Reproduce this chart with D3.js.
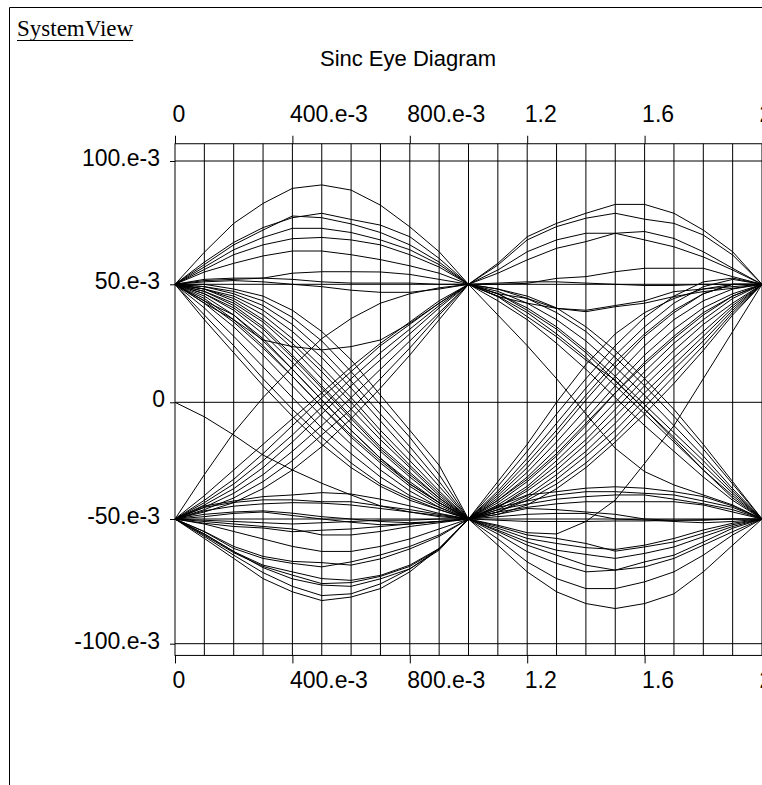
<!DOCTYPE html>
<html>
<head>
<meta charset="utf-8">
<script src="https://cdn.jsdelivr.net/npm/d3@7"></script>
<style>
body { margin: 0; background: #fff; }
svg { display: block; }
</style>
</head>
<body>
<script>
// sample times of the two symbol periods (s)
var timesA = [0, 0.1, 0.2, 0.3, 0.4, 0.5, 0.6, 0.7, 0.8, 0.9, 1.0];
var timesB = [1.0, 1.1, 1.2, 1.3, 1.4, 1.5, 1.6, 1.7, 1.8, 1.9, 2.0];

// trace values, in 1e-3 units
var startTrace = [0, -6.2, -14, -22.6, -29, -34.7, -39.7, -44.4, -47, -49, -50];

var aTopTop = [
    [50, 63, 74.7, 82.8, 88.9, 90.3, 88.2, 82.1, 73.3, 63.2, 50],
    [50, 59, 67, 73, 77, 78.8, 76.3, 74, 69.3, 60.5, 50],
    [50, 58, 66, 72, 77.7, 77, 74.5, 71, 66, 59, 50],
    [50, 57, 64, 69, 72.7, 72.7, 71, 68, 64, 58, 50],
    [50, 56, 62, 66, 68.5, 69, 68, 66, 62, 57, 50],
    [50, 55, 58.5, 61.5, 63.5, 63.5, 62, 60, 57.5, 54.5, 50],
    [50, 51.5, 52, 52.5, 54.5, 55.1, 55.1, 55, 54, 52, 50],
    [50, 52, 52.5, 52.5, 52, 51, 50.5, 50.5, 50.5, 50, 50],
    [50, 51, 51.5, 51, 50, 49, 47.5, 46.6, 46.6, 48, 50],
    [50, 42, 35, 26.4, 23.6, 22.2, 23.6, 26.4, 33.5, 42, 50]
];

var aTopBot = [
    [50, 35, 21, 7, -6, -18, -28, -36, -42, -46, -50],
    [50, 37, 24, 10, -3, -15, -26, -35, -41, -46, -50],
    [50, 40, 28, 15, 2, -11, -22, -32, -40, -45, -50],
    [50, 42, 32, 20, 7, -6, -18, -29, -38, -45, -50],
    [50, 43, 37, 27, 14, 1, -12, -24, -35, -43, -50],
    [50, 44, 35, 24, 11, -2, -15, -26, -36, -44, -50],
    [50, 45, 37, 26, 14, 1, -12, -24, -34, -43, -50],
    [50, 46, 39, 29, 17, 4, -9, -21, -32, -42, -50],
    [50, 47, 41, 32, 20, 7, -6, -19, -30, -41, -50],
    [50, 47, 42, 34, 23, 10, -3, -16, -28, -40, -50],
    [50, 48, 44, 37, 27, 15, 2, -12, -25, -38, -50],
    [50, 48, 45, 39, 30, 19, 6, -8, -22, -36, -50],
    [50, 49, 46, 41, 33, 22, 9, -5, -19, -34, -50],
    [50, 49, 47, 43, 36, 26, 13, -1, -15, -31, -50],
    [50, 50, 48, 45, 39, 30, 18, 3, -12, -27, -50],
    [50, 46, 40, 31, 19, 6, -7, -20, -31, -41, -50],
    [50, 43, 34, 23, 11, -2, -14, -25, -35, -43, -50],
    [50, 48, 43, 35, 25, 13, 0, -14, -27, -39, -50]
];

var aBotTop = [
    [-50, -31, -13, 2, 15, 27, 35.5, 42, 46, 48.5, 50],
    [-50, -42, -33, -22, -10, 2, 13, 24, 33, 42, 50],
    [-50, -44, -37, -28, -17, -5, 7, 18, 29, 40, 50],
    [-50, -45, -39, -31, -21, -10, 2, 14, 26, 38, 50],
    [-50, -46, -41, -34, -25, -14, -3, 10, 23, 37, 50],
    [-50, -47, -43, -37, -29, -19, -7, 6, 20, 35, 50],
    [-50, -43, -35, -25, -14, -2, 10, 21, 31, 41, 50],
    [-50, -40, -29, -18, -7, 4, 15, 25, 34, 43, 50]
];

var aBotBot = [
    [-50, -44.4, -42.3, -40.4, -39.7, -38.7, -39.3, -41.5, -44.4, -47.6, -50],
    [-50, -45, -42.9, -41.8, -41.8, -42.6, -42.6, -44.4, -46, -48, -50],
    [-50, -46.5, -44.5, -43.5, -43, -43.2, -44, -45.5, -47, -48.5, -50],
    [-50, -48, -47, -46.5, -47.5, -49, -50, -51, -51.5, -51, -50],
    [-50, -49, -47.6, -47, -48.5, -50, -51.3, -52.3, -52, -51, -50],
    [-50, -51.7, -53, -53.6, -55.1, -54.5, -54, -53, -52, -51, -50],
    [-50, -51, -52, -53, -54, -56.4, -56.4, -55, -53, -51.5, -50],
    [-50, -50.5, -51, -51.5, -52, -51.5, -51, -50.5, -50.5, -50, -50],
    [-50, -55.1, -61.8, -65.8, -67.8, -69.2, -67.2, -64.4, -61, -56.4, -50],
    [-50, -55, -61, -65, -67, -67.5, -68.5, -66, -62, -57, -50],
    [-50, -56, -63.1, -68.5, -71.2, -73.9, -74.6, -72.6, -68.5, -61.8, -50],
    [-50, -56.5, -63.5, -69, -72.5, -75.9, -75.5, -73, -69, -62, -50],
    [-50, -56, -63, -69.5, -74, -76.5, -77, -74, -70, -62.5, -50],
    [-50, -57, -64.5, -71.5, -77, -80.7, -80, -76, -70, -62, -50],
    [-50, -57.8, -65.8, -73.9, -79.2, -82.7, -81.3, -77.9, -71.2, -61.8, -50],
    [-50, -52, -55, -58, -61, -63, -63, -61, -58, -54, -50]
];

var bTopTop = [
    [50, 58.5, 69.3, 74.7, 78.8, 82.4, 82.4, 78.8, 72, 63.2, 50],
    [50, 57.8, 68, 73.4, 76.8, 78.8, 76.4, 74.7, 70, 61.9, 50],
    [50, 55.8, 63.2, 68, 70.7, 70.7, 68, 65.2, 61.1, 55.8, 50],
    [50, 54.5, 59.9, 64.6, 67.3, 70.7, 71.4, 68.6, 63.2, 56.5, 50],
    [50, 50, 50.4, 52.4, 53.1, 55.1, 56.5, 56.5, 56.5, 53.1, 50],
    [50, 50.5, 51, 51, 50.5, 50, 49.5, 49.5, 50, 50, 50],
    [50, 44.8, 42, 39.8, 38.4, 40.5, 42, 44.8, 46.9, 48.3, 50],
    [50, 46, 44, 39.8, 39, 41, 43, 46.9, 48, 49, 50]
];

var bTopBot = [
    [50, 37, 24, 10, -5, -19.7, -29.7, -35.4, -39.7, -44, -50],
    [50, 44.8, 36.3, 27.8, 17.9, 9.4, -3, -15, -27, -39, -50],
    [50, 46, 40, 32, 22, 11, -1, -13, -25, -38, -50],
    [50, 47, 42, 35, 26, 15, 3, -10, -23, -37, -50],
    [50, 45, 38, 29, 19, 7, -5, -17, -29, -40, -50],
    [50, 48, 44, 38, 30, 19, 7, -6, -20, -35, -50],
    [50, 46, 39, 31, 21, 9, -3, -16, -29, -41, -50],
    [50, 43, 35, 25, 14, 2, -10, -21, -32, -42, -50],
    [50, 48, 45, 40, 32, 22, 10, -3, -18, -34, -50]
];

var bBotTop = [
    [-50, -34, -18, 0, 16, 29, 38, 44, 48, 50, 50],
    [-50, -36, -21, -5, 10, 24, 36, 45, 51, 52.5, 50],
    [-50, -38, -24, -9, 6, 20, 32, 42, 49, 52, 50],
    [-50, -40, -28, -14, 1, 15, 28, 38, 46, 50, 50],
    [-50, -41, -30, -17, -3, 11, 24, 35, 43, 48, 50],
    [-50, -42, -32, -20, -7, 7, 20, 31, 40, 46, 50],
    [-50, -43, -34, -23, -10, 4, 17, 28, 38, 45, 50],
    [-50, -44, -36, -25, -13, 0, 13, 25, 35, 44, 50],
    [-50, -45, -37, -27, -16, -3, 10, 22, 33, 42, 50],
    [-50, -45, -38, -29, -18, -6, 7, 19, 30, 41, 50],
    [-50, -46, -40, -31, -21, -9, 4, 16, 28, 40, 50],
    [-50, -47, -41, -33, -23, -12, 1, 14, 26, 39, 50],
    [-50, -47, -42, -35, -26, -15, -2, 11, 24, 38, 50],
    [-50, -48, -44, -37, -28, -17, -5, 8, 22, 37, 50],
    [-50, -42, -33, -22, -9, 4, 16, 27, 37, 45, 50],
    [-50, -39, -26, -12, 3, 17, 29, 39, 46, 50, 50],
    [-50, -52.5, -55.5, -56, -51, -41.9, -26.2, -10, 10, 30, 50]
];

var bBotBot = [
    [-50, -44.4, -39.7, -38.3, -36.8, -36.2, -36.8, -38.3, -40.4, -44.4, -50],
    [-50, -45, -42.3, -39.7, -38.3, -38.3, -39, -39.7, -42.3, -45, -50],
    [-50, -46, -43.6, -41.5, -40.4, -39.7, -39.7, -41.5, -43.5, -46, -50],
    [-50, -47, -45, -43.5, -42.6, -42.6, -42.6, -42.6, -44, -47, -50],
    [-50, -48, -45.5, -46, -47, -48, -50, -50.5, -50.5, -50, -50],
    [-50, -49, -48, -47.6, -47.6, -50, -50.4, -51, -51.5, -51, -50],
    [-50, -50.5, -51, -51, -51, -50.8, -50.8, -50.5, -50.3, -50, -50],
    [-50, -53.7, -57.8, -59.8, -61.5, -62.2, -60.5, -57.8, -54.4, -51.7, -50],
    [-50, -53, -56.4, -57.8, -59.8, -62.9, -61.2, -59.2, -55.7, -52.3, -50],
    [-50, -54.5, -59.2, -62.5, -64.2, -65.8, -63.8, -61.2, -57.1, -53, -50],
    [-50, -55, -60.5, -64.5, -68.5, -70.5, -67.2, -64.5, -59.2, -53.7, -50],
    [-50, -56, -63.1, -67.8, -71.2, -70.5, -69.2, -65.8, -60.5, -55.1, -50],
    [-50, -58, -67.2, -73.9, -77.9, -77.9, -75.2, -71.2, -64.5, -56.4, -50],
    [-50, -60.5, -71.2, -79.2, -83.9, -85.9, -83.9, -80, -71.2, -60.5, -50]
];

var yTickValues = [-100, -50, 0, 50, 100];
var yTickLabels = ["-100.e-3", "-50.e-3", "0", "50.e-3", "100.e-3"];
var xTickValues = [0, 0.4, 0.8, 1.2, 1.6, 2];
var xTickLabels = ["0", "400.e-3", "800.e-3", "1.2", "1.6", "2"];

var width = 762, height = 785;
var sans = "'Liberation Sans', Arial, sans-serif";

var svg = d3.select("body").append("svg")
    .attr("width", width)
    .attr("height", height);

var x = d3.scaleLinear().domain([0, 2]).range([175, 762]);
// the source plot spaces its gridlines slightly unevenly, so the scale is piecewise
var y = d3.scaleLinear()
    .domain([-100, -50, 0, 50, 100])
    .range([643.7, 519, 402.3, 284.3, 161]);
var yTop = y(107), yBottom = y(-104.7);

// page frame
svg.append("path")
    .attr("d", "M9.5,785V7.5H" + width)
    .attr("fill", "none")
    .attr("stroke", "#000");

var brand = svg.append("text")
    .attr("x", 17).attr("y", 36)
    .attr("font-family", "'Liberation Serif', 'Times New Roman', serif")
    .attr("font-size", 23)
    .text("SystemView");
var brandLen = brand.node().getComputedTextLength();
svg.append("line")
    .attr("x1", 17).attr("x2", 17 + brandLen)
    .attr("y1", 40.5).attr("y2", 40.5)
    .attr("stroke", "#000");

svg.append("text")
    .attr("x", 408).attr("y", 66)
    .attr("text-anchor", "middle")
    .attr("font-family", sans)
    .attr("font-size", 22)
    .text("Sinc Eye Diagram");

// grid
var grid = svg.append("g").attr("stroke", "#000").attr("stroke-width", 1);
grid.selectAll("line.v")
    .data(d3.range(1, 20).map(function (i) { return i / 10; }))
    .enter().append("line")
    .attr("class", "v")
    .attr("x1", function (d) { return x(d); })
    .attr("x2", function (d) { return x(d); })
    .attr("y1", yTop).attr("y2", yBottom);
grid.selectAll("line.h")
    .data(yTickValues)
    .enter().append("line")
    .attr("class", "h")
    .attr("x1", x(0)).attr("x2", x(2))
    .attr("y1", function (d) { return y(d); })
    .attr("y2", function (d) { return y(d); });

// traces
var lineA = d3.line()
    .x(function (d, i) { return x(timesA[i]); })
    .y(function (d) { return y(d); });
var lineB = d3.line()
    .x(function (d, i) { return x(timesB[i]); })
    .y(function (d) { return y(d); });

var tracesA = [startTrace].concat(aTopTop, aTopBot, aBotTop, aBotBot);
var tracesB = bTopTop.concat(bTopBot, bBotTop, bBotBot);

var traces = svg.append("g")
    .attr("fill", "none")
    .attr("stroke", "#000")
    .attr("stroke-width", 1);
traces.selectAll("path.a")
    .data(tracesA)
    .enter().append("path")
    .attr("class", "a")
    .attr("d", lineA);
traces.selectAll("path.b")
    .data(tracesB)
    .enter().append("path")
    .attr("class", "b")
    .attr("d", lineB);

// plot frame
svg.append("rect")
    .attr("x", x(0)).attr("y", yTop)
    .attr("width", x(2) - x(0)).attr("height", yBottom - yTop)
    .attr("fill", "none")
    .attr("stroke", "#000");

// axes
var styleAxis = function (g) {
    g.select(".domain").remove();
    g.selectAll("line").attr("stroke", "#000");
    g.selectAll("text")
        .attr("fill", "#000")
        .attr("font-family", sans)
        .attr("font-size", 23);
};

svg.append("g")
    .attr("transform", "translate(" + x(0) + ",0)")
    .call(d3.axisLeft(y)
        .tickValues(yTickValues)
        .tickFormat(function (d, i) { return yTickLabels[i]; })
        .tickSize(5)
        .tickPadding(10))
    .call(styleAxis)
    .call(function (g) {
        g.selectAll("text")
            .attr("dy", "0.2em")
            .attr("x", function (d) { return d === 0 ? -10 : -15; });
    });

svg.append("g")
    .attr("transform", "translate(0," + yTop + ")")
    .call(d3.axisTop(x)
        .tickValues(xTickValues)
        .tickFormat(function (d, i) { return xTickLabels[i]; })
        .tickSize(8)
        .tickPadding(14))
    .call(styleAxis)
    .call(function (g) {
        g.selectAll("text").attr("text-anchor", "start").attr("x", -3);
    });

svg.append("g")
    .attr("transform", "translate(0," + yBottom + ")")
    .call(d3.axisBottom(x)
        .tickValues(xTickValues)
        .tickFormat(function (d, i) { return xTickLabels[i]; })
        .tickSize(8)
        .tickPadding(8.6))
    .call(styleAxis)
    .call(function (g) {
        g.selectAll("text").attr("text-anchor", "start").attr("x", -3);
    });
</script>
</body>
</html>
